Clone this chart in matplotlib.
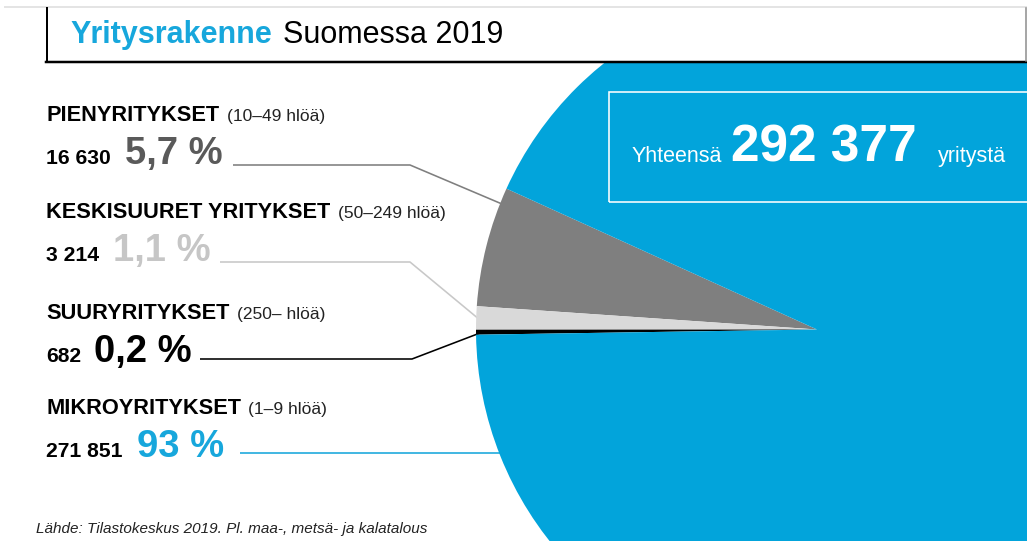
import matplotlib
matplotlib.use("Agg")
import matplotlib.pyplot as plt
from matplotlib.patches import Rectangle

plt.rcParams['font.family'] = ['Liberation Sans', 'DejaVu Sans']

# ---- data ----
categories = ["PIENYRITYKSET", "KESKISUURET YRITYKSET", "SUURYRITYKSET", "MIKROYRITYKSET"]
size_ranges = ["(10–49 hlöä)", "(50–249 hlöä)", "(250– hlöä)", "(1–9 hlöä)"]
counts = [16630, 3214, 682, 271851]
count_labels = ["16 630", "3 214", "682", "271 851"]
pct_labels = ["5,7 %", "1,1 %", "0,2 %", "93 %"]
total_label = "292 377"
title_bold = "Yritysrakenne"
title_rest = "Suomessa 2019"
source = "Lähde: Tilastokeskus 2019. Pl. maa-, metsä- ja kalatalous"

# ---- styles ----
BLUE = "#02A4DB"
TBLUE = "#17A7DC"
slice_colors = ["#7F7F7F", "#D9D9D9", "#000000", BLUE]
pct_colors = ["#5A5A5A", "#C6C6C6", "#000000", TBLUE]
line_colors = ["#7F7F7F", "#C8C8C8", "#000000", TBLUE]

W, H = 1027, 541
fig = plt.figure(figsize=(W / 100, H / 100), dpi=100)
ax = fig.add_axes([0, 0, 1, 1])


def Y(y):
    return H - y


PX = 72 / 100  # points per pixel

# pie
wedges, _ = ax.pie(counts, colors=slice_colors, startangle=155.6,
                   counterclock=True, center=(817, Y(329.5)), radius=341,
                   wedgeprops=dict(linewidth=0))
for w in wedges:
    w.set_clip_on(True)
    w.set_zorder(1)
ax.set_xlim(0, W)
ax.set_ylim(0, H)
ax.set_aspect('auto')
ax.axis('off')

# leader lines (drawn beneath the pie)
leaders = [
    [(233, 165), (410, 165), (502, 204)],
    [(220, 262), (410, 262), (480, 320)],
    [(200, 359), (412, 359), (480, 333)],
    [(240, 453), (505, 453)],
]
for pts, c in zip(leaders, line_colors):
    ax.plot([p[0] for p in pts], [Y(p[1]) for p in pts], color=c,
            lw=1.6 * PX, zorder=0, solid_capstyle='butt')

# left-hand labels
head_y = [121, 218, 319, 414]
range_x = [227, 338, 237, 248]
count_y = [164, 261, 362, 457]
pct_x = [125, 113, 94, 137]
for i in range(4):
    ax.text(46, Y(head_y[i]), categories[i], fontsize=15.7, fontweight='bold',
            color='black', va='baseline', ha='left')
    ax.text(range_x[i], Y(head_y[i]), size_ranges[i], fontsize=12.5,
            color='#222222', va='baseline', ha='left')
    ax.text(46, Y(count_y[i]), count_labels[i], fontsize=15.2, fontweight='bold',
            color='black', va='baseline', ha='left')
    ax.text(pct_x[i], Y(count_y[i]), pct_labels[i], fontsize=27.5,
            fontweight='bold', color=pct_colors[i], va='baseline', ha='left')

# total box inside pie
ax.add_patch(Rectangle((609, Y(202)), 430, 110, fill=False, edgecolor='white',
                       lw=1.6 * PX, zorder=4))
ax.text(632, Y(162), "Yhteensä", fontsize=15.5, color='white',
        va='baseline', ha='left', zorder=5)
ax.text(731, Y(161), total_label, fontsize=37, fontweight='bold',
        color='white', va='baseline', ha='left', zorder=5)
ax.text(938, Y(162), "yritystä", fontsize=15.5, color='white',
        va='baseline', ha='left', zorder=5)

# title band (white, covers the top of the pie)
ax.add_patch(Rectangle((-20, Y(62)), W + 40, 100, facecolor='white',
                       edgecolor='none', zorder=6, clip_on=False))
ax.plot([5, W], [Y(7), Y(7)], color='#E4E4E4', lw=2 * PX, zorder=7)
ax.plot([47, 47], [Y(8), Y(62)], color='black', lw=2 * PX, zorder=7)
ax.plot([46, W], [Y(62), Y(62)], color='black', lw=2.5 * PX, zorder=7)
ax.plot([1026, 1026], [Y(8), Y(61)], color='#8A8A8A', lw=1.5 * PX, zorder=7)
ax.text(70, Y(43), title_bold, fontsize=22, fontweight='bold', color=TBLUE,
        va='baseline', ha='left', zorder=8)
ax.text(283, Y(43), title_rest, fontsize=22, color='black',
        va='baseline', ha='left', zorder=8)

# source
ax.text(36, Y(533), source, fontsize=11, style='italic', color='#222222',
        va='baseline', ha='left')

fig.savefig("out.png", dpi=100, facecolor='white')
